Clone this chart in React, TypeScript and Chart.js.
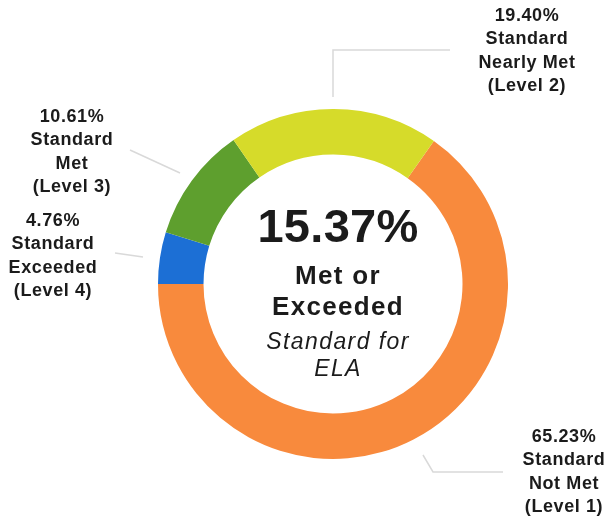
import React, { useEffect, useRef } from "react";
import { Chart, registerables } from "chart.js";

Chart.register(...registerables);

// ---- data ----
const categories = [
  "Standard Not Met (Level 1)",
  "Standard Exceeded (Level 4)",
  "Standard Met (Level 3)",
  "Standard Nearly Met (Level 2)",
];
const values = [65.23, 4.76, 10.61, 19.4];
const labelLines = [
  ["65.23%", "Standard", "Not Met", "(Level 1)"],
  ["4.76%", "Standard", "Exceeded", "(Level 4)"],
  ["10.61%", "Standard", "Met", "(Level 3)"],
  ["19.40%", "Standard", "Nearly Met", "(Level 2)"],
];
const colors = ["#F88A3D", "#1C6FD5", "#5E9F2E", "#D6DB2A"];
const centerValue = "15.37%";
const centerBold = ["Met or", "Exceeded"];
const centerItalic = ["Standard for", "ELA"];

// ---- layout (offsets relative to doughnut centre) ----
const labelLayout = [
  { x: 231, y: 153, leader: [[90, 171], [100, 188], [170, 188]] },
  { x: -280, y: -63, leader: [[-218, -31], [-190, -27]] },
  { x: -261, y: -167, leader: [[-203, -134], [-153, -111]] },
  { x: 194, y: -268, leader: [[0, -187], [0, -234], [117, -234]] },
];

const overlayPlugin = {
  id: "overlay",
  afterDraw(chart: any) {
    const ctx = chart.ctx as any;
    const arc = chart.getDatasetMeta(0).data[0];
    if (!arc) return;
    const cx = arc.x;
    const cy = arc.y;
    ctx.save();
    // leader lines
    ctx.strokeStyle = "#d9d9d9";
    ctx.lineWidth = 1.5;
    labelLayout.forEach((l) => {
      ctx.beginPath();
      l.leader.forEach((p, i) => {
        if (i === 0) ctx.moveTo(cx + p[0], cy + p[1]);
        else ctx.lineTo(cx + p[0], cy + p[1]);
      });
      ctx.stroke();
    });
    // labels
    ctx.fillStyle = "#1b1b1b";
    ctx.textAlign = "center";
    ctx.textBaseline = "middle";
    ctx.font = "bold 18px 'Liberation Sans', Arial, sans-serif";
    ctx.letterSpacing = "0.6px";
    labelLines.forEach((lines, i) => {
      const l = labelLayout[i];
      lines.forEach((t, j) => {
        ctx.fillText(t, cx + l.x, cy + l.y + j * 23.5);
      });
    });
    // centre text
    const tx = cx + 5;
    ctx.letterSpacing = "0.3px";
    ctx.font = "bold 47px 'Liberation Sans', Arial, sans-serif";
    ctx.fillText(centerValue, tx, cy - 55);
    ctx.letterSpacing = "1.3px";
    ctx.font = "bold 26px 'Liberation Sans', Arial, sans-serif";
    ctx.fillText(centerBold[0], tx, cy - 7);
    ctx.fillText(centerBold[1], tx, cy + 24);
    ctx.letterSpacing = "1.4px";
    ctx.font = "italic 23px 'Liberation Sans', Arial, sans-serif";
    ctx.fillText(centerItalic[0], tx, cy + 59);
    ctx.fillText(centerItalic[1], tx, cy + 86);
    ctx.restore();
  },
};

export default function App() {
  const ref = useRef<HTMLCanvasElement | null>(null);
  useEffect(() => {
    if (!ref.current) return;
    const chart = new Chart(ref.current, {
      type: "doughnut",
      data: {
        labels: categories,
        datasets: [
          {
            data: values,
            backgroundColor: colors,
            borderWidth: 0,
          },
        ],
      },
      options: {
        responsive: false,
        animation: false,
        rotation: 35.2,
        cutout: "74%",
        layout: { padding: { left: 158, right: 102, top: 109, bottom: 59 } },
        plugins: {
          legend: { display: false },
          tooltip: { enabled: false },
        },
      },
      plugins: [overlayPlugin],
    });
    return () => chart.destroy();
  }, []);
  return (
    <div style={{ position: "fixed", left: 0, top: 0, width: 610, height: 518, background: "#fff" }}>
      <canvas ref={ref} width={610} height={518} style={{ width: 610, height: 518 }} />
    </div>
  );
}
